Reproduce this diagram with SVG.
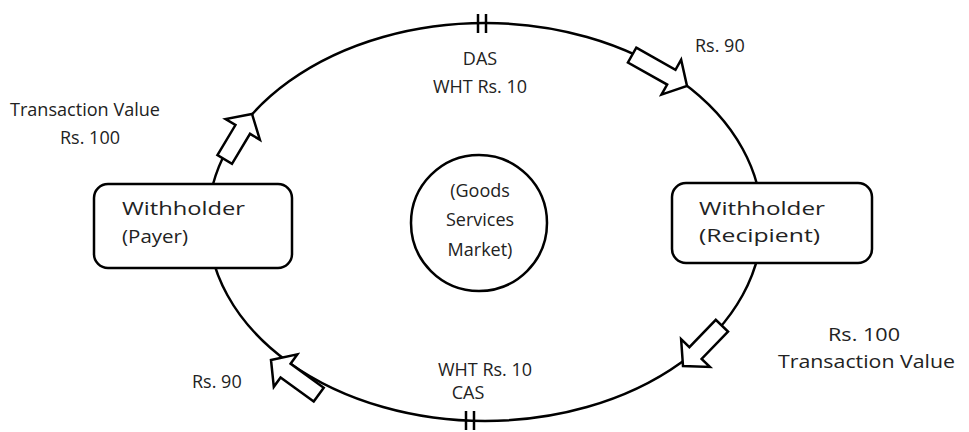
<svg xmlns="http://www.w3.org/2000/svg" width="969" height="432" viewBox="0 0 969 432">
<defs>
<style>
.t{font-family:"Open Sans","Liberation Sans",sans-serif;font-size:18px;fill:#222}
.ln{fill:none;stroke:#000;stroke-width:2.5}
.box{fill:#fff;stroke:#000;stroke-width:2.5}
.arr{fill:#fff;stroke:#000;stroke-width:2.5;stroke-linejoin:miter}
</style>
</defs>
<rect width="969" height="432" fill="#fff"/>
<g id="cycle">
<ellipse class="ln" cx="485" cy="222" rx="277" ry="199"/>
<line class="ln" x1="478" y1="14" x2="478" y2="33" stroke-width="3"/>
<line class="ln" x1="486" y1="14" x2="486" y2="33" stroke-width="3"/>
<line class="ln" x1="466" y1="411" x2="466" y2="430" stroke-width="3"/>
<line class="ln" x1="474" y1="411" x2="474" y2="430" stroke-width="3"/>
</g>
<g id="connectors">
<polygon class="arr" transform="translate(687,86) rotate(29.4)" points="-63,-8.5 -18,-8.5 -18,-20 0,0 -18,20 -18,8.5 -63,8.5"/>
<polygon class="arr" transform="translate(252,114) rotate(-59)" points="-53,-8.5 -18,-8.5 -18,-20 0,0 -18,20 -18,8.5 -53,8.5"/>
<polygon class="arr" transform="translate(683,366) rotate(134)" points="-56,-8.5 -18,-8.5 -18,-20 0,0 -18,20 -18,8.5 -56,8.5"/>
<polygon class="arr" transform="translate(271,360) rotate(216)" points="-59,-8.5 -18,-8.5 -18,-20 0,0 -18,20 -18,8.5 -59,8.5"/>
</g>
<g id="payer">
<rect class="box" x="94" y="184" width="198" height="84" rx="14"/>
<text class="t" x="122" y="215" textLength="123" lengthAdjust="spacingAndGlyphs">Withholder</text>
<text class="t" x="122" y="243" textLength="66" lengthAdjust="spacingAndGlyphs">(Payer)</text>
</g>
<g id="recipient">
<rect class="box" x="672" y="183" width="200" height="80" rx="14"/>
<text class="t" x="699" y="215" textLength="126" lengthAdjust="spacingAndGlyphs">Withholder</text>
<text class="t" x="699" y="242" textLength="121" lengthAdjust="spacingAndGlyphs">(Recipient)</text>
</g>
<g id="market">
<circle class="box" cx="479" cy="223" r="68"/>
<text class="t" x="480" y="197" text-anchor="middle">(Goods</text>
<text class="t" x="480" y="226" text-anchor="middle">Services</text>
<text class="t" x="480" y="256" text-anchor="middle">Market)</text>
</g>
<g id="labels">
<text class="t" x="480" y="65" text-anchor="middle">DAS</text>
<text class="t" x="480" y="93" text-anchor="middle">WHT Rs. 10</text>
<text class="t" x="695" y="52">Rs. 90</text>
<text class="t" x="10" y="116" textLength="150" lengthAdjust="spacingAndGlyphs">Transaction Value</text>
<text class="t" x="60" y="144">Rs. 100</text>
<text class="t" x="828" y="341" textLength="72" lengthAdjust="spacingAndGlyphs">Rs. 100</text>
<text class="t" x="778" y="368" textLength="177" lengthAdjust="spacingAndGlyphs">Transaction Value</text>
<text class="t" x="192" y="388">Rs. 90</text>
<text class="t" x="485" y="376" text-anchor="middle">WHT Rs. 10</text>
<text class="t" x="468" y="399" text-anchor="middle">CAS</text>
</g>
</svg>
